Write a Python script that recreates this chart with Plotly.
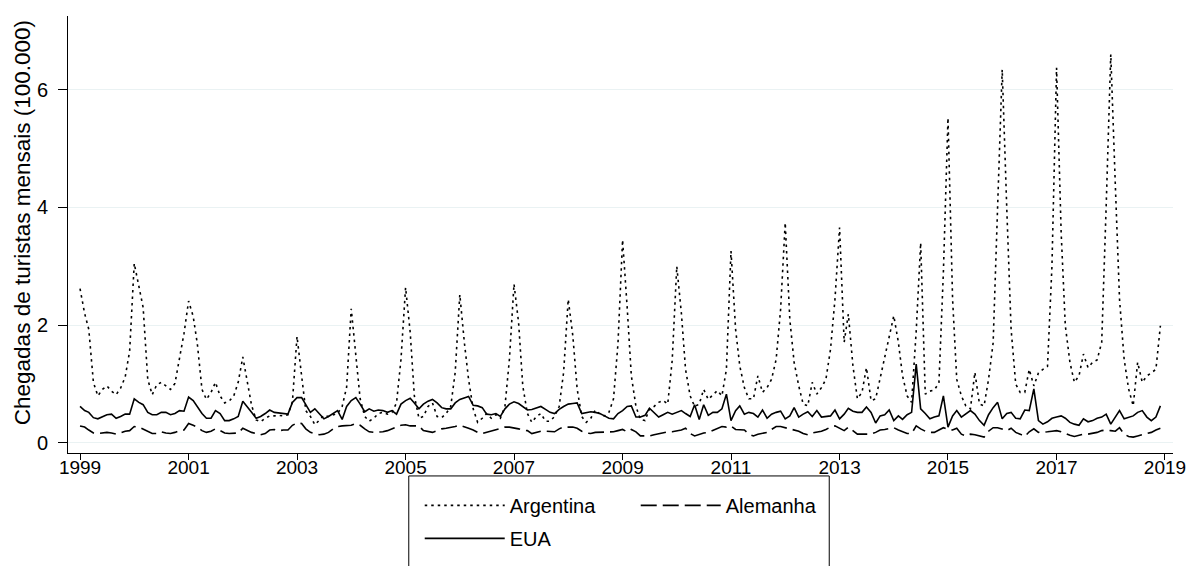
import pandas as pd
import plotly.graph_objects as go

months = pd.date_range("1999-01-01", periods=240, freq="MS")

argentina = [
    2.62, 2.20, 1.93, 1.03, 0.80, 0.91, 0.97, 0.88, 0.82, 0.93, 1.12, 1.56,  # 1999
    3.05, 2.67, 2.30, 1.08, 0.82, 0.99, 1.03, 0.97, 0.91, 1.01, 1.41, 1.86,  # 2000
    2.41, 2.15, 1.68, 0.91, 0.74, 0.86, 1.03, 0.80, 0.68, 0.71, 0.80, 1.03,  # 2001
    1.46, 1.03, 0.64, 0.39, 0.36, 0.42, 0.46, 0.46, 0.47, 0.46, 0.48, 0.70,  # 2002
    1.81, 1.14, 0.55, 0.45, 0.31, 0.39, 0.47, 0.45, 0.48, 0.50, 0.62, 0.95,  # 2003
    2.28, 1.42, 0.75, 0.45, 0.37, 0.42, 0.50, 0.52, 0.49, 0.52, 0.68, 1.42,  # 2004
    2.64, 1.88, 0.80, 0.42, 0.45, 0.62, 0.68, 0.45, 0.43, 0.50, 0.62, 1.20,  # 2005
    2.52, 1.70, 1.08, 0.58, 0.35, 0.42, 0.50, 0.42, 0.48, 0.42, 0.62, 1.42,  # 2006
    2.70, 2.04, 0.97, 0.50, 0.35, 0.45, 0.50, 0.37, 0.37, 0.45, 0.62, 1.20,  # 2007
    2.44, 1.82, 0.92, 0.45, 0.35, 0.42, 0.56, 0.49, 0.46, 0.52, 0.75, 1.69,  # 2008
    3.45, 2.30, 1.14, 0.62, 0.40, 0.38, 0.58, 0.62, 0.69, 0.72, 0.66, 1.40,  # 2009
    3.00, 2.20, 1.25, 0.80, 0.62, 0.66, 0.91, 0.74, 0.82, 0.89, 0.80, 1.25,  # 2010
    3.26, 1.93, 1.31, 0.94, 0.75, 0.75, 1.14, 0.86, 0.94, 1.08, 1.42, 2.27,  # 2011
    3.74, 2.10, 1.37, 0.97, 0.66, 0.63, 1.03, 0.83, 0.94, 1.08, 1.59, 2.44,  # 2012
    3.66, 1.71, 2.19, 1.31, 0.75, 0.86, 1.28, 0.72, 0.75, 1.10, 1.45, 1.82,  # 2013
    2.16, 1.71, 1.14, 0.80, 0.69, 1.90, 3.40, 0.83, 0.88, 0.90, 1.02, 2.90,  # 2014
    5.52, 2.44, 1.08, 0.80, 0.63, 0.58, 1.20, 0.66, 0.63, 1.08, 1.70, 4.00,  # 2015
    6.34, 3.97, 1.93, 1.00, 0.86, 0.86, 1.25, 0.97, 1.19, 1.25, 1.30, 3.00,  # 2016
    6.37, 3.57, 1.99, 1.37, 1.03, 1.14, 1.51, 1.28, 1.37, 1.41, 1.71, 4.02,  # 2017
    6.60, 4.36, 2.44, 1.42, 0.92, 0.63, 1.37, 1.03, 1.14, 1.19, 1.25, 1.99,  # 2018
]

eua = [
    0.62, 0.55, 0.52, 0.43, 0.41, 0.45, 0.48, 0.49, 0.42, 0.45, 0.49, 0.49,  # 1999
    0.75, 0.69, 0.65, 0.52, 0.48, 0.48, 0.52, 0.52, 0.48, 0.50, 0.55, 0.54,  # 2000
    0.78, 0.72, 0.61, 0.50, 0.42, 0.42, 0.55, 0.50, 0.38, 0.38, 0.41, 0.45,  # 2001
    0.71, 0.60, 0.52, 0.42, 0.45, 0.50, 0.56, 0.52, 0.51, 0.50, 0.49, 0.69,  # 2002
    0.77, 0.77, 0.66, 0.52, 0.58, 0.49, 0.41, 0.45, 0.50, 0.55, 0.40, 0.62,  # 2003
    0.72, 0.77, 0.66, 0.53, 0.58, 0.54, 0.56, 0.55, 0.52, 0.55, 0.49, 0.66,  # 2004
    0.72, 0.76, 0.68, 0.58, 0.66, 0.71, 0.74, 0.68, 0.60, 0.58, 0.58, 0.68,  # 2005
    0.74, 0.76, 0.79, 0.64, 0.63, 0.60, 0.49, 0.48, 0.50, 0.45, 0.58, 0.66,  # 2006
    0.70, 0.67, 0.62, 0.56, 0.57, 0.59, 0.62, 0.57, 0.52, 0.50, 0.57, 0.62,  # 2007
    0.66, 0.67, 0.68, 0.50, 0.52, 0.53, 0.52, 0.50, 0.46, 0.42, 0.41, 0.50,  # 2008
    0.55, 0.62, 0.63, 0.44, 0.44, 0.47, 0.59, 0.52, 0.44, 0.48, 0.52, 0.49,  # 2009
    0.52, 0.55, 0.50, 0.45, 0.65, 0.40, 0.65, 0.47, 0.52, 0.52, 0.58, 0.83,  # 2010
    0.38, 0.55, 0.63, 0.49, 0.52, 0.50, 0.44, 0.56, 0.42, 0.49, 0.52, 0.54,  # 2011
    0.41, 0.46, 0.60, 0.44, 0.49, 0.53, 0.45, 0.55, 0.44, 0.45, 0.46, 0.56,  # 2012
    0.41, 0.49, 0.59, 0.54, 0.52, 0.52, 0.61, 0.52, 0.34, 0.46, 0.48, 0.56,  # 2013
    0.38, 0.46, 0.40, 0.48, 0.52, 1.34, 0.58, 0.50, 0.41, 0.44, 0.46, 0.80,  # 2014
    0.27, 0.46, 0.55, 0.44, 0.50, 0.55, 0.49, 0.38, 0.30, 0.48, 0.60, 0.69,  # 2015
    0.41, 0.50, 0.52, 0.42, 0.41, 0.56, 0.55, 0.92, 0.38, 0.32, 0.36, 0.42,  # 2016
    0.44, 0.46, 0.42, 0.35, 0.32, 0.30, 0.41, 0.36, 0.38, 0.42, 0.44, 0.49,  # 2017
    0.32, 0.44, 0.55, 0.41, 0.44, 0.46, 0.52, 0.55, 0.44, 0.38, 0.44, 0.63,  # 2018
]

alemanha = [
    0.29, 0.27, 0.22, 0.17, 0.16, 0.17, 0.18, 0.17, 0.15, 0.17, 0.20, 0.21,  # 1999
    0.28, 0.27, 0.23, 0.20, 0.16, 0.16, 0.19, 0.17, 0.16, 0.18, 0.21, 0.22,  # 2000
    0.33, 0.30, 0.27, 0.21, 0.18, 0.20, 0.24, 0.21, 0.17, 0.16, 0.16, 0.17,  # 2001
    0.25, 0.21, 0.18, 0.16, 0.14, 0.16, 0.22, 0.23, 0.21, 0.22, 0.22, 0.30,  # 2002
    0.34, 0.33, 0.24, 0.18, 0.16, 0.14, 0.15, 0.18, 0.24, 0.28, 0.29, 0.29,  # 2003
    0.30, 0.33, 0.30, 0.24, 0.19, 0.18, 0.18, 0.19, 0.21, 0.24, 0.28, 0.30,  # 2004
    0.31, 0.29, 0.29, 0.29, 0.21, 0.19, 0.18, 0.21, 0.24, 0.25, 0.26, 0.28,  # 2005
    0.30, 0.28, 0.25, 0.22, 0.18, 0.16, 0.18, 0.21, 0.23, 0.25, 0.27, 0.27,  # 2006
    0.26, 0.24, 0.22, 0.21, 0.16, 0.18, 0.20, 0.20, 0.19, 0.19, 0.24, 0.27,  # 2007
    0.27, 0.27, 0.25, 0.20, 0.17, 0.16, 0.18, 0.18, 0.19, 0.19, 0.19, 0.21,  # 2008
    0.23, 0.19, 0.23, 0.19, 0.12, 0.12, 0.12, 0.14, 0.16, 0.17, 0.19, 0.19,  # 2009
    0.20, 0.22, 0.25, 0.16, 0.12, 0.15, 0.17, 0.18, 0.21, 0.24, 0.28, 0.27,  # 2010
    0.29, 0.23, 0.23, 0.22, 0.15, 0.12, 0.15, 0.16, 0.18, 0.23, 0.28, 0.28,  # 2011
    0.26, 0.24, 0.23, 0.20, 0.16, 0.14, 0.17, 0.18, 0.20, 0.23, 0.27, 0.29,  # 2012
    0.25, 0.21, 0.27, 0.21, 0.15, 0.15, 0.15, 0.15, 0.18, 0.22, 0.23, 0.25,  # 2013
    0.26, 0.22, 0.19, 0.16, 0.16, 0.29, 0.24, 0.20, 0.18, 0.18, 0.22, 0.26,  # 2014
    0.23, 0.22, 0.25, 0.15, 0.12, 0.15, 0.14, 0.12, 0.10, 0.20, 0.26, 0.26,  # 2015
    0.23, 0.21, 0.25, 0.18, 0.15, 0.11, 0.19, 0.24, 0.18, 0.18, 0.19, 0.20,  # 2016
    0.21, 0.19, 0.16, 0.13, 0.11, 0.13, 0.15, 0.15, 0.16, 0.18, 0.21, 0.22,  # 2017
    0.21, 0.20, 0.26, 0.15, 0.11, 0.10, 0.12, 0.14, 0.16, 0.18, 0.22, 0.25,  # 2018
]

y_ticks = [0, 2, 4, 6]
y_title = "Chegadas de turistas mensais (100.000)"
FONT = "Liberation Sans, Arial, Helvetica, sans-serif"

# page has an 8px body margin; work in page pixel coordinates
OFF = 8
W, H = 1194 - OFF, 566 - OFF
L, T = 68 - OFF, 16 - OFF
R = W - (1177 - OFF)
B = H - (454 - OFF)
pw, ph = W - L - R, H - T - B


def px_x(p):
    return (p - OFF - L) / pw


def px_y(p):
    return (T + ph - (p - OFF)) / ph


fig = go.Figure()
fig.add_trace(go.Scatter(x=months, y=argentina, mode="lines", name="Argentina",
                         line=dict(color="black", width=1.6, dash="2.5px,4px"),
                         legend="legend"))
fig.add_trace(go.Scatter(x=months, y=alemanha, mode="lines", name="Alemanha",
                         line=dict(color="black", width=1.6, dash="16px,6px"),
                         legend="legend"))
fig.add_trace(go.Scatter(x=months, y=eua, mode="lines", name="EUA",
                         line=dict(color="black", width=1.6),
                         legend="legend2"))

fig.update_layout(
    width=W, height=H,
    margin=dict(l=L, r=R, t=T, b=B),
    paper_bgcolor="white", plot_bgcolor="white",
    font=dict(family=FONT, size=19, color="black"),
    xaxis=dict(
        range=["1998-10-12", "2019-02-24"],
        tick0="1999-01-01", dtick="M24", tickformat="%Y",
        showgrid=False, zeroline=False,
        showline=True, linecolor="black", linewidth=1,
        ticks="outside", ticklen=6, tickcolor="black", tickwidth=1,
        ticklabelstandoff=-9,
        tickfont=dict(size=19),
    ),
    yaxis=dict(
        range=[-0.17, 7.25],
        tickvals=y_ticks,
        showgrid=True, gridcolor="#eaf2f3", gridwidth=1,
        zeroline=False,
        showline=True, linecolor="black", linewidth=1,
        ticks="outside", ticklen=9, tickcolor="black", tickwidth=1,
        ticklabelstandoff=6,
        tickfont=dict(size=20),
    ),
    annotations=[dict(text=y_title, textangle=-90, showarrow=False,
                      xref="paper", yref="paper",
                      x=px_x(22), y=px_y(223.5),
                      xanchor="center", yanchor="middle",
                      font=dict(size=22.5))],
    legend=dict(
        orientation="h", x=px_x(421), xanchor="left",
        y=px_y(487), yanchor="top",
        bgcolor="rgba(0,0,0,0)", borderwidth=0,
        font=dict(size=20), itemwidth=80, entrywidth=121,
        itemclick=False, itemdoubleclick=False,
    ),
    legend2=dict(
        orientation="h", x=px_x(421), xanchor="left",
        y=px_y(520), yanchor="top",
        bgcolor="rgba(0,0,0,0)", borderwidth=0,
        font=dict(size=20), itemwidth=80,
        itemclick=False, itemdoubleclick=False,
    ),
    shapes=[dict(type="rect", xref="paper", yref="paper",
                 x0=px_x(410), x1=px_x(832), y0=px_y(477), y1=px_y(580),
                 line=dict(color="black", width=1), fillcolor="rgba(0,0,0,0)",
                 layer="above")],
)

fig.write_html("out.html")
